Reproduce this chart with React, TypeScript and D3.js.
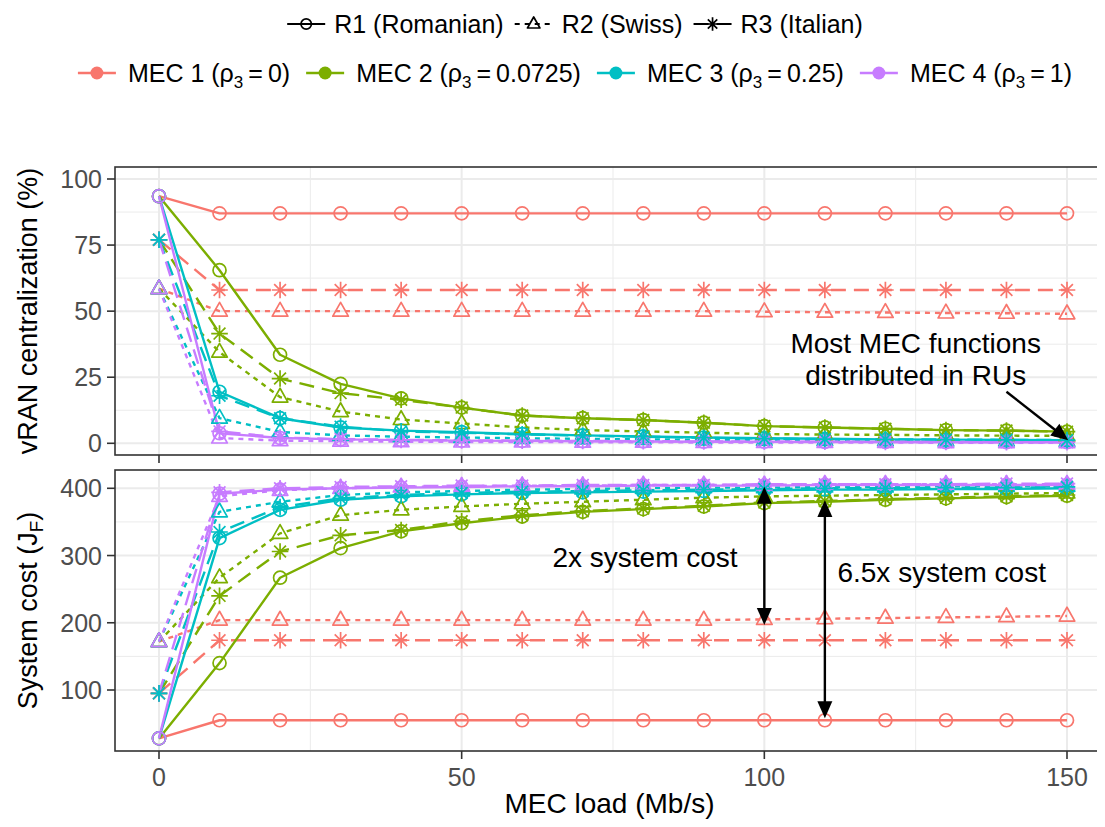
import React, { useEffect, useRef } from "react";
import * as d3 from "d3";

const W = 1105;
const H = 827;
const FONT = "'Liberation Sans', Arial, Helvetica, sans-serif";

// MEC load (Mb/s)
const LOADS = [0, 10, 20, 30, 40, 50, 60, 70, 80, 90, 100, 110, 120, 130, 140, 150];

const MEC_LABELS = ["MEC 1", "MEC 2", "MEC 3", "MEC 4"];
const RHO3 = ["0", "0.0725", "0.25", "1"];
const MEC_COLORS = ["#F8766D", "#7CAE00", "#00BFC4", "#C77CFF"];
const REGION_LABELS = ["R1 (Romanian)", "R2 (Swiss)", "R3 (Italian)"];
const REGION_SHAPES = ["circle", "triangle", "asterisk"];
const REGION_DASH = ["", "5,5", "15,8"];

const X_TICKS = [0, 50, 100, 150];
const X_MINOR = [25, 75, 125];
const CENTRAL_TICKS = [0, 25, 50, 75, 100];
const CENTRAL_MINOR = [12.5, 37.5, 62.5, 87.5];
const COST_TICKS = [100, 200, 300, 400];
const COST_MINOR = [150, 250, 350];

// vRAN centralization (%)
const central_mec1_r1 = [93.5, 87, 87, 87, 87, 87, 87, 87, 87, 87, 87, 87, 87, 87, 87, 87];
const central_mec1_r2 = [58.5, 50, 50, 50, 50, 50, 50, 50, 50, 50, 49.8, 49.6, 49.5, 49.3, 49.2, 49];
const central_mec1_r3 = [77, 58, 58, 58, 58, 58, 58, 58, 58, 58, 58, 58, 58, 58, 58, 58];
const central_mec2_r1 = [93.5, 65.5, 33.5, 22.5, 17, 13.5, 10.5, 9.5, 8.8, 7.8, 6.5, 6, 5.5, 5, 4.8, 4.4];
const central_mec2_r2 = [58.5, 34.5, 17.5, 12, 9, 7.5, 6, 5, 4.5, 4, 3.5, 3.3, 3.2, 3, 2.9, 2.8];
const central_mec2_r3 = [77, 41.5, 24.5, 19, 16.5, 13.5, 10.5, 9.5, 8.8, 7.8, 6.5, 6, 5.5, 5, 4.8, 4.4];
const central_mec3_r1 = [93.5, 19.5, 9.5, 6, 4.8, 4.2, 3.5, 3, 2.6, 2.2, 1.9, 1.7, 1.5, 1.4, 1.3, 1.2];
const central_mec3_r2 = [58.5, 9.5, 4.3, 3, 2.5, 2.2, 1.9, 1.7, 1.5, 1.3, 1.2, 1.1, 1, 0.9, 0.9, 0.8];
const central_mec3_r3 = [77, 18, 9.5, 6.3, 4.5, 4, 3.4, 2.9, 2.5, 2.1, 1.8, 1.6, 1.5, 1.4, 1.3, 1.2];
const central_mec4_r1 = [93.5, 3.8, 2, 1.5, 1.2, 1, 0.9, 0.8, 0.7, 0.6, 0.6, 0.5, 0.5, 0.4, 0.4, 0.4];
const central_mec4_r2 = [58.5, 2, 1, 0.8, 0.6, 0.5, 0.5, 0.4, 0.4, 0.3, 0.3, 0.3, 0.3, 0.2, 0.2, 0.2];
const central_mec4_r3 = [77, 4.5, 2.2, 1.6, 1.3, 1.1, 1, 0.9, 0.8, 0.7, 0.6, 0.6, 0.5, 0.5, 0.4, 0.4];

// System cost (J_F)
const cost_mec1_r1 = [28, 55, 55, 55, 55, 55, 55, 55, 55, 55, 55, 55, 55, 55, 55, 55];
const cost_mec1_r2 = [172, 204, 204, 204, 204, 204, 204, 204, 204, 204, 205, 206, 207, 208, 209, 210];
const cost_mec1_r3 = [95, 174, 174, 174, 174, 174, 174, 174, 174, 174, 174, 174, 174, 174, 174, 174];
const cost_mec2_r1 = [28, 140, 267, 311, 336, 348, 358, 365, 369, 373, 378, 380, 383, 385, 387, 389];
const cost_mec2_r2 = [172, 267, 333, 360, 368, 373, 377, 380, 383, 386, 388, 389, 390, 391, 392, 393];
const cost_mec2_r3 = [95, 240, 306, 330, 338, 351, 360, 366, 370, 374, 379, 381, 384, 386, 388, 390];
const cost_mec3_r1 = [28, 326, 368, 383, 388, 391, 393, 394, 395, 396, 397, 398, 398, 399, 399, 400];
const cost_mec3_r2 = [172, 365, 380, 390, 394, 396, 398, 399, 400, 401, 401, 402, 402, 403, 403, 403];
const cost_mec3_r3 = [95, 335, 372, 385, 390, 393, 395, 396, 397, 398, 399, 400, 400, 401, 401, 402];
const cost_mec4_r1 = [28, 392, 398, 400, 401, 402, 403, 403, 404, 404, 404, 405, 405, 405, 405, 405];
const cost_mec4_r2 = [172, 388, 397, 400, 402, 403, 404, 404, 405, 405, 405, 406, 406, 406, 406, 406];
const cost_mec4_r3 = [95, 394, 400, 402, 403, 404, 404, 405, 405, 405, 406, 406, 406, 406, 407, 407];

// [mec][region]
const CENTRAL = [
  [central_mec1_r1, central_mec1_r2, central_mec1_r3],
  [central_mec2_r1, central_mec2_r2, central_mec2_r3],
  [central_mec3_r1, central_mec3_r2, central_mec3_r3],
  [central_mec4_r1, central_mec4_r2, central_mec4_r3],
];
const COST = [
  [cost_mec1_r1, cost_mec1_r2, cost_mec1_r3],
  [cost_mec2_r1, cost_mec2_r2, cost_mec2_r3],
  [cost_mec3_r1, cost_mec3_r2, cost_mec3_r3],
  [cost_mec4_r1, cost_mec4_r2, cost_mec4_r3],
];

// order points are painted in (cyan asterisks end up on top, as in the original)
const POINT_ORDER: [number, number][] = [
  [0, 0], [1, 0], [2, 0], [3, 0],
  [0, 1], [1, 1], [2, 1], [3, 1],
  [0, 2], [1, 2], [3, 2], [2, 2],
];

const drawMarker = (g: any, shape: string, cx: number, cy: number, color: string, s = 1) => {
  if (shape === "circle") {
    g.append("circle").attr("cx", cx).attr("cy", cy).attr("r", 6.5 * s)
      .attr("fill", "none").attr("stroke", color).attr("stroke-width", 1.7);
  } else if (shape === "triangle") {
    const pts = [[0, -8.8], [7.8, 5], [-7.8, 5]].map(p => [cx + p[0] * s, cy + p[1] * s].join(",")).join(" ");
    g.append("polygon").attr("points", pts).attr("fill", "none")
      .attr("stroke", color).attr("stroke-width", 1.7).attr("stroke-linejoin", "round");
  } else {
    const r = 8.3 * s, d = 5.9 * s;
    const p = `M${cx},${cy - r}L${cx},${cy + r}M${cx - r},${cy}L${cx + r},${cy}` +
      `M${cx - d},${cy - d}L${cx + d},${cy + d}M${cx - d},${cy + d}L${cx + d},${cy - d}`;
    g.append("path").attr("d", p).attr("stroke", color).attr("stroke-width", 1.7).attr("fill", "none");
  }
};

const arrowHead = (g: any, x1: number, y1: number, x2: number, y2: number) => {
  // head at (x2,y2), pointing away from (x1,y1)
  const a = Math.atan2(y2 - y1, x2 - x1);
  const L = 17, Wd = 7.5;
  const bx = x2 - L * Math.cos(a), by = y2 - L * Math.sin(a);
  const px = -Math.sin(a) * Wd, py = Math.cos(a) * Wd;
  g.append("polygon")
    .attr("points", `${x2},${y2} ${bx + px},${by + py} ${bx - px},${by - py}`)
    .attr("fill", "black");
};

const App = () => {
  const ref = useRef<SVGSVGElement>(null);

  useEffect(() => {
    const svg = d3.select(ref.current);
    svg.selectAll("*").remove();

    const px0 = 115, px1 = 1104;
    const x = d3.scaleLinear().domain([0, 150]).range([159, 1067]);
    const panels = [
      { top: 167, bottom: 455, y: d3.scaleLinear().domain([0, 100]).range([443.3, 179]),
        ticks: CENTRAL_TICKS, minor: CENTRAL_MINOR, data: CENTRAL, id: "top" },
      { top: 470, bottom: 751, y: d3.scaleLinear().domain([100, 400]).range([690, 488.3]),
        ticks: COST_TICKS, minor: COST_MINOR, data: COST, id: "bot" },
    ];

    const defs = svg.append("defs");

    panels.forEach(p => {
      defs.append("clipPath").attr("id", "clip-" + p.id)
        .append("rect").attr("x", px0).attr("y", p.top).attr("width", px1 - px0).attr("height", p.bottom - p.top);

      const g = svg.append("g");
      g.append("rect").attr("x", px0).attr("y", p.top).attr("width", px1 - px0)
        .attr("height", p.bottom - p.top).attr("fill", "white");

      // grid
      p.minor.forEach(v => g.append("line").attr("x1", px0).attr("x2", px1)
        .attr("y1", p.y(v)).attr("y2", p.y(v)).attr("stroke", "#EBEBEB").attr("stroke-width", 1));
      X_MINOR.forEach(v => g.append("line").attr("y1", p.top).attr("y2", p.bottom)
        .attr("x1", x(v)).attr("x2", x(v)).attr("stroke", "#EBEBEB").attr("stroke-width", 1));
      p.ticks.forEach(v => g.append("line").attr("x1", px0).attr("x2", px1)
        .attr("y1", p.y(v)).attr("y2", p.y(v)).attr("stroke", "#EBEBEB").attr("stroke-width", 2));
      X_TICKS.forEach(v => g.append("line").attr("y1", p.top).attr("y2", p.bottom)
        .attr("x1", x(v)).attr("x2", x(v)).attr("stroke", "#EBEBEB").attr("stroke-width", 2));

      const plot = g.append("g").attr("clip-path", `url(#clip-${p.id})`);
      const line = d3.line<number>().x((_, i) => x(LOADS[i])).y(d => p.y(d));

      p.data.forEach((mec, mi) => {
        mec.forEach((vals, ri) => {
          plot.append("path").attr("d", line(vals)).attr("fill", "none")
            .attr("stroke", MEC_COLORS[mi]).attr("stroke-width", 2.4)
            .attr("stroke-dasharray", REGION_DASH[ri]).attr("stroke-linejoin", "round");
        });
      });
      POINT_ORDER.forEach(([mi, ri]) => {
        p.data[mi][ri].forEach((v, i) =>
          drawMarker(plot, REGION_SHAPES[ri], x(LOADS[i]), p.y(v), MEC_COLORS[mi]));
      });

      // border
      g.append("rect").attr("x", px0).attr("y", p.top).attr("width", px1 - px0)
        .attr("height", p.bottom - p.top).attr("fill", "none").attr("stroke", "#333333").attr("stroke-width", 1.6);

      // y axis
      p.ticks.forEach(v => {
        g.append("line").attr("x1", px0 - 8).attr("x2", px0).attr("y1", p.y(v)).attr("y2", p.y(v))
          .attr("stroke", "#333333").attr("stroke-width", 1.6);
        g.append("text").attr("x", px0 - 13).attr("y", p.y(v)).attr("dy", "0.36em")
          .attr("text-anchor", "end").attr("font-family", FONT).attr("font-size", 25)
          .attr("fill", "#4D4D4D").text(v);
      });
      // x ticks
      X_TICKS.forEach(v => {
        g.append("line").attr("x1", x(v)).attr("x2", x(v)).attr("y1", p.bottom).attr("y2", p.bottom + 8)
          .attr("stroke", "#333333").attr("stroke-width", 1.6);
      });
    });

    // x tick labels (bottom panel only)
    X_TICKS.forEach(v => {
      svg.append("text").attr("x", x(v)).attr("y", 786).attr("text-anchor", "middle")
        .attr("font-family", FONT).attr("font-size", 25).attr("fill", "#4D4D4D").text(v);
    });

    // axis titles
    svg.append("text").attr("x", (px0 + px1) / 2).attr("y", 813).attr("text-anchor", "middle")
      .attr("font-family", FONT).attr("font-size", 28).attr("fill", "black").text("MEC load (Mb/s)");
    svg.append("text").attr("transform", `translate(37,${(167 + 455) / 2}) rotate(-90)`)
      .attr("text-anchor", "middle").attr("font-family", FONT).attr("font-size", 27)
      .attr("fill", "black").text("vRAN centralization (%)");
    const st = svg.append("text").attr("transform", `translate(37,${(470 + 751) / 2}) rotate(-90)`)
      .attr("text-anchor", "middle").attr("font-family", FONT).attr("font-size", 27).attr("fill", "black");
    st.append("tspan").text("System cost (J");
    st.append("tspan").attr("font-size", 19).attr("dy", 6).text("F");
    st.append("tspan").attr("dy", -6).text(")");

    // annotations
    const yT = panels[0].y, yB = panels[1].y;
    const ann = svg.append("g").attr("font-family", FONT).attr("font-size", 28).attr("fill", "black")
      .attr("text-anchor", "middle");
    ann.append("text").attr("x", x(125)).attr("y", yT(38)).attr("dy", "0.36em").text("Most MEC functions");
    ann.append("text").attr("x", x(125)).attr("y", yT(26)).attr("dy", "0.36em").text("distributed in RUs");
    ann.append("text").attr("x", x(80.3)).attr("y", yB(298)).attr("dy", "0.36em").text("2x system cost");
    ann.append("text").attr("x", x(129.3)).attr("y", yB(276)).attr("dy", "0.36em").text("6.5x system cost");

    const ar = svg.append("g");
    const arrow = (x1: number, y1: number, x2: number, y2: number, both: boolean) => {
      const a = Math.atan2(y2 - y1, x2 - x1);
      const sx = both ? x1 + 12 * Math.cos(a) : x1, sy = both ? y1 + 12 * Math.sin(a) : y1;
      ar.append("line").attr("x1", sx).attr("y1", sy)
        .attr("x2", x2 - 12 * Math.cos(a)).attr("y2", y2 - 12 * Math.sin(a))
        .attr("stroke", "black").attr("stroke-width", 2.4);
      arrowHead(ar, x1, y1, x2, y2);
      if (both) arrowHead(ar, x2, y2, x1, y1);
    };
    arrow(x(140), yT(19.5), x(150.2), yT(1.2), false);
    arrow(x(100), yB(402.4), x(100), yB(196.7), true);
    arrow(x(110), yB(382.6), x(110), yB(57.9), true);

    // legends
    const legendRow = (cy: number, gapKT: number, gapItem: number,
      items: { key: (g: any, cx: number) => void; label: (t: any) => void }[]) => {
      const g = svg.append("g");
      const keyW = 38;
      const widths: number[] = [];
      const texts: any[] = [];
      items.forEach(it => {
        const t = g.append("text").attr("y", cy).attr("dy", "0.36em").attr("font-family", FONT)
          .attr("font-size", 25).attr("fill", "black");
        it.label(t);
        texts.push(t);
        widths.push((t.node() as SVGTextElement).getComputedTextLength());
      });
      const total = d3.sum(widths) + items.length * (keyW + gapKT) + (items.length - 1) * gapItem;
      let cx = 575 - total / 2;
      items.forEach((it, i) => {
        it.key(g, cx);
        texts[i].attr("x", cx + keyW + gapKT);
        cx += keyW + gapKT + widths[i] + gapItem;
      });
    };

    legendRow(24, 9, 11, REGION_LABELS.map((lab, ri) => ({
      key: (g: any, cx: number) => {
        g.append("line").attr("x1", cx).attr("x2", cx + 38).attr("y1", 24).attr("y2", 24)
          .attr("stroke", "black").attr("stroke-width", 2.2).attr("stroke-dasharray", REGION_DASH[ri]);
        drawMarker(g, REGION_SHAPES[ri], cx + 19, 24, "black", 0.8);
      },
      label: (t: any) => t.text(lab),
    })));

    legendRow(73, 12, 16, MEC_LABELS.map((lab, mi) => ({
      key: (g: any, cx: number) => {
        g.append("line").attr("x1", cx).attr("x2", cx + 38).attr("y1", 73).attr("y2", 73)
          .attr("stroke", MEC_COLORS[mi]).attr("stroke-width", 2.4);
        g.append("circle").attr("cx", cx + 19).attr("cy", 73).attr("r", 6.5).attr("fill", MEC_COLORS[mi]);
      },
      label: (t: any) => {
        t.append("tspan").text(`${lab} (\u03C1`);
        t.append("tspan").attr("font-size", 17).attr("dy", 6).text("3");
        t.append("tspan").attr("dy", -6).text(`\u2009=\u2009${RHO3[mi]})`);
      },
    })));
  }, []);

  return <svg ref={ref} width={W} height={H} style={{ display: "block", margin: "-8px", background: "white" }} />;
};

export default App;
